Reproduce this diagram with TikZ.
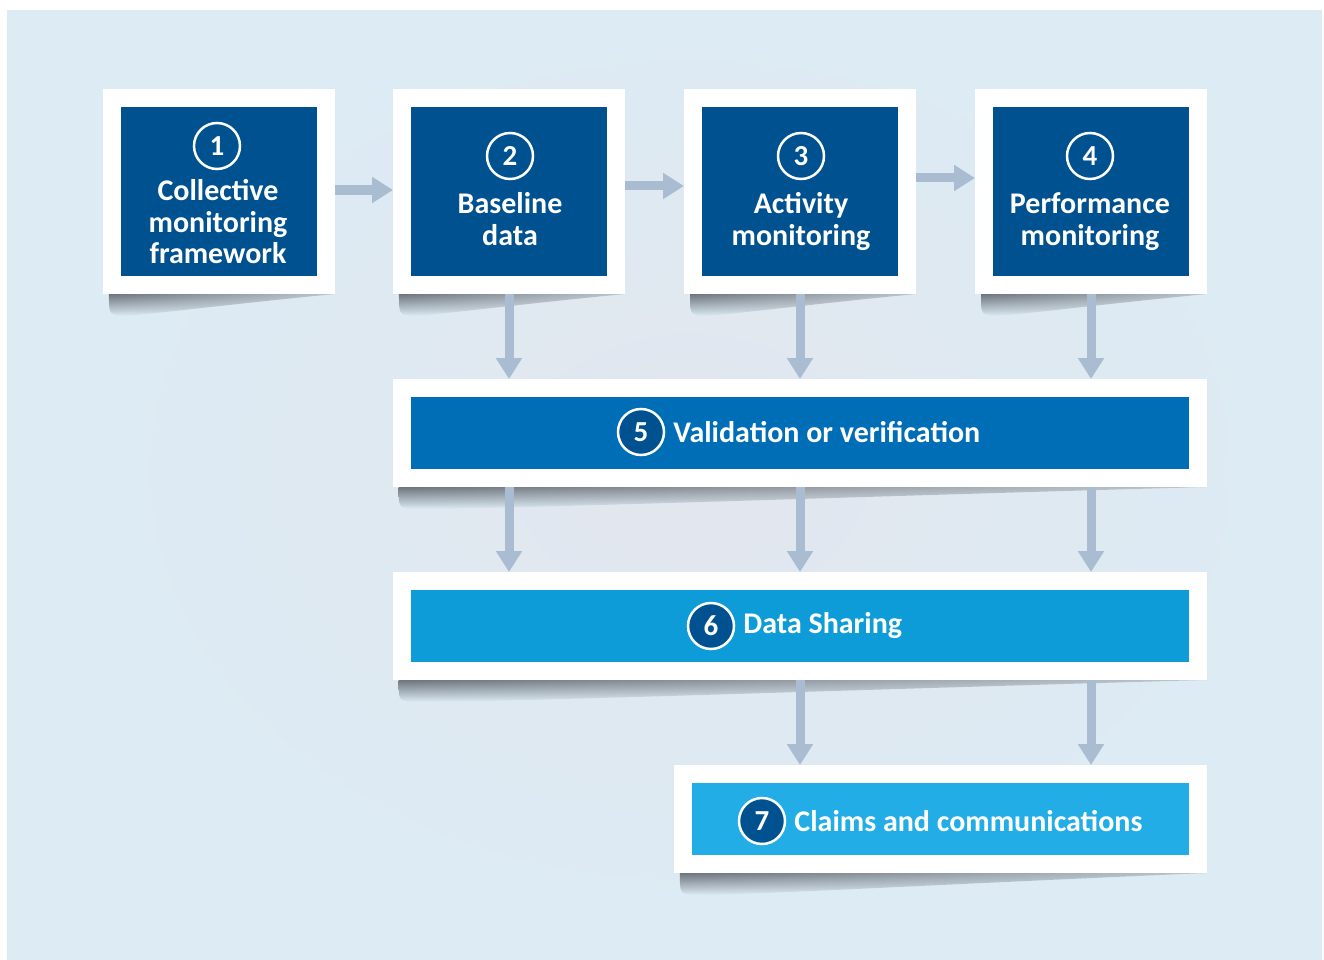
\documentclass[tikz,border=0pt]{standalone}
\usepackage{fontspec}
\setmainfont{Carlito}
\usetikzlibrary{arrows.meta,calc,fadings,positioning}

\definecolor{hintergrund}{HTML}{DCEBF4}
\definecolor{mitte}{HTML}{E3E6EE}
\definecolor{dunkelblau}{HTML}{00518F}
\definecolor{mittelblau}{HTML}{006DB7}
\definecolor{hellblau}{HTML}{0E9CD8}
\definecolor{himmelblau}{HTML}{23ADE6}
\definecolor{pfeilgrau}{HTML}{A9BCD1}
\definecolor{schattengrau}{HTML}{6E757D}

\tikzfading[name=schattenweg, left color=transparent!0, right color=transparent!70]

\tikzset{
    schritt/.style={rectangle, inner sep=0pt, outer sep=18pt,
        preaction={draw=white, line width=36pt}},
    nummer/.style={circle, draw=white, line width=2.5pt, minimum size=46pt,
        inner sep=0pt, text=white, font=\bfseries\fontsize{29}{30}\selectfont},
    beschriftung/.style={text=white, align=center, inner sep=0pt,
        font=\bfseries\fontsize{30}{31.5}\selectfont},
    pfeil/.style={draw=pfeilgrau, line width=9pt,
        -{Triangle[width=25pt,length=21pt]}}
}

% Schatten unter einem Kasten, links breit, nach rechts auslaufend
\newcommand\schatten[1]{%
    \shade[top color=schattengrau, bottom color=hintergrund, path fading=schattenweg]
        ($(#1.south west)+(6,0)$) -- (#1.south east)
        .. controls ($(#1.south west)!0.55!(#1.south east)+(0,10)$)
        and ($(#1.south west)!0.15!(#1.south east)+(0,22)$) .. ($(#1.south west)+(18,22)$)
        .. controls ($(#1.south west)+(6,20)$) .. cycle;}

\begin{document}
\begin{tikzpicture}[x=1pt, y=-1pt]
    \useasboundingbox (0,0) rectangle (1324,960);
    \fill[hintergrund] (7,10) rectangle (1322,960);
    \shade[inner color=mitte, outer color=hintergrund] (690,470) ellipse (600pt and 455pt);

    \path node[schritt, fill=dunkelblau, minimum width=196pt, minimum height=169pt] (s1) at (219,191.5) {}
        node[schritt, fill=dunkelblau, minimum width=196pt, minimum height=169pt] (s2) at (509,191.5) {}
        node[schritt, fill=dunkelblau, minimum width=196pt, minimum height=169pt] (s3) at (800,191.5) {}
        node[schritt, fill=dunkelblau, minimum width=196pt, minimum height=169pt] (s4) at (1091,191.5) {}
        node[schritt, fill=mittelblau, minimum width=778pt, minimum height=72pt] (s5) at (800,433) {}
        node[schritt, fill=hellblau, minimum width=778pt, minimum height=72pt] (s6) at (800,626) {}
        node[schritt, fill=himmelblau, minimum width=497pt, minimum height=72pt] (s7) at (940.5,819) {};

    \foreach \k in {s1,s2,s3,s4,s5,s6,s7}
        \schatten{\k};

    \draw[pfeil] (s1.east |- 0,190) -- (s2.west |- 0,190);
    \draw[pfeil] (s2.east |- 0,186) -- (s3.west |- 0,186);
    \draw[pfeil] (s3.east |- 0,178) -- (s4.west |- 0,178);
    \draw[pfeil] (s2) -- (s2 |- s5.north);
    \draw[pfeil] (s3) -- (s3 |- s5.north);
    \draw[pfeil] (s4) -- (s4 |- s5.north);
    \draw[pfeil] (s5.south -| s2) -- (s6.north -| s2);
    \draw[pfeil] (s5.south -| s3) -- (s6.north -| s3);
    \draw[pfeil] (s5.south -| s4) -- (s6.north -| s4);
    \draw[pfeil] (s6.south -| s3) -- (s7.north -| s3);
    \draw[pfeil] (s6.south -| s4) -- (s7.north -| s4);

    \path node[nummer] (n1) at (217,146) {1}
        node[beschriftung] (t1) at (218,222) {Collective\\monitoring\\framework}
        node[nummer] (n2) at (510,156) {2}
        node[beschriftung] (t2) at (510,219) {Baseline\\data}
        node[nummer] (n3) at (801,156) {3}
        node[beschriftung] (t3) at (801,221.5) {Activity\\monitoring}
        node[nummer] (n4) at (1090,156) {4}
        node[beschriftung] (t4) at (1090,221.5) {Performance\\monitoring}
        node[nummer, fill=dunkelblau] (n5) at (641,432) {5}
        node[beschriftung, right=8pt of n5] (t5) {Validation or verification}
        node[nummer, fill=dunkelblau] (n6) at (711,626) {6}
        node[beschriftung, right=8pt of n6] (t6) {Data Sharing}
        node[nummer, fill=dunkelblau] (n7) at (762,821) {7}
        node[beschriftung, right=8pt of n7] (t7) {Claims and communications};
\end{tikzpicture}
\end{document}
